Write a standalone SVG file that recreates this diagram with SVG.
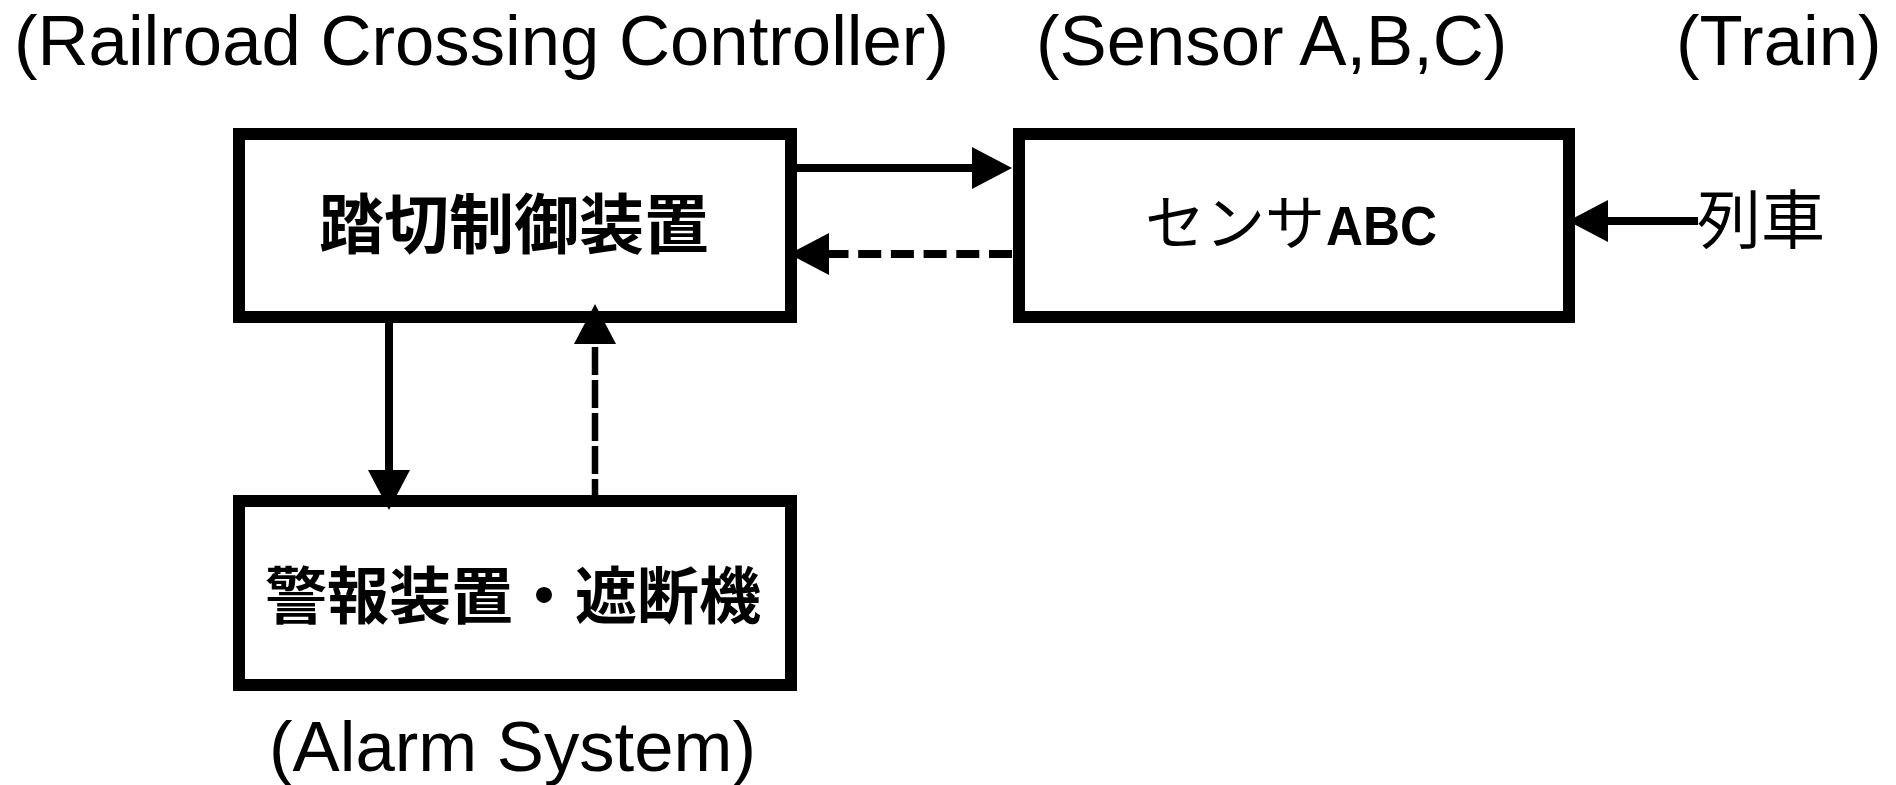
<svg xmlns="http://www.w3.org/2000/svg" width="1896" height="785" viewBox="0 0 1896 785">
  <style>
    .box { fill: #ffffff; stroke: #000000; stroke-width: 12; }
    .label-en { font-family: "Liberation Sans", Arial, sans-serif; font-size: 70.7px; fill: #000000; }
    .label-jp { font-family: "Noto Sans CJK JP", "Noto Sans CJK SC", sans-serif; font-weight: 700; fill: #000000; dominant-baseline: central; text-anchor: middle; }
    .plain-jp { font-family: "Noto Sans CJK JP", "Noto Sans CJK SC", sans-serif; font-weight: 400; fill: #000000; }
    .ab { font-family: "Liberation Sans", Arial, sans-serif; font-weight: 700; }
    .line { fill: none; stroke: #000000; stroke-width: 8; }
    .dash { stroke-dasharray: 23 9.7; }
    .dash-v { stroke-width: 6.5; stroke-dasharray: 28 5; stroke-dashoffset: 12; }
  </style>
  <defs>
    <marker id="head" viewBox="0 0 40 42" refX="0" refY="21" markerWidth="40" markerHeight="42" markerUnits="userSpaceOnUse" orient="auto">
      <path d="M0,0 L40,21 L0,42 Z" fill="#000000"/>
    </marker>
  </defs>

  <rect width="1896" height="785" fill="#ffffff"/>

  <!-- captions -->
  <text class="label-en" x="14" y="65">(Railroad Crossing Controller)</text>
  <text class="label-en" x="1036" y="65">(Sensor A,B,C)</text>
  <text class="label-en" x="1676" y="65">(Train)</text>
  <text class="label-en" x="269" y="771">(Alarm System)</text>

  <!-- crossing controller -->
  <g id="controller">
    <rect class="box" x="239" y="134" width="552" height="183"/>
    <text class="label-jp" x="514" y="220" font-size="65">踏切制御装置</text>
  </g>

  <!-- sensors -->
  <g id="sensor">
    <rect class="box" x="1019" y="134" width="550" height="183"/>
    <text x="1145" y="245"><tspan class="plain-jp" font-size="60">センサ</tspan><tspan class="ab" x="1326" font-size="55" textLength="111" lengthAdjust="spacingAndGlyphs">ABC</tspan></text>
  </g>

  <!-- alarm and barrier -->
  <g id="alarm">
    <rect class="box" x="239" y="501" width="552" height="184"/>
    <text class="label-jp" x="513" y="592" font-size="62">警報装置・遮断機</text>
  </g>

  <!-- train -->
  <g id="train">
    <text class="plain-jp" x="1697" y="215" font-size="64" dominant-baseline="central">列車</text>
  </g>

  <!-- connectors -->
  <g id="connectors">
    <line class="line" x1="797" y1="168" x2="972" y2="168" marker-end="url(#head)"/>
    <line class="line dash" x1="1012" y1="254" x2="829" y2="254" marker-end="url(#head)"/>
    <line class="line" x1="389" y1="323" x2="389" y2="470" marker-end="url(#head)"/>
    <line class="line dash-v" x1="595" y1="495" x2="595" y2="344" marker-end="url(#head)"/>
    <line class="line" x1="1698" y1="221" x2="1608" y2="221" marker-end="url(#head)"/>
  </g>
</svg>
